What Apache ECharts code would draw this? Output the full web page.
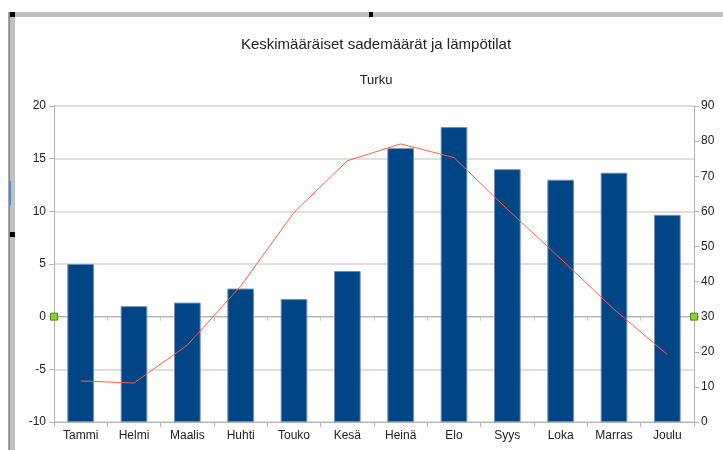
<!DOCTYPE html>
<html>
<head>
<meta charset="utf-8">
<script src="https://cdn.jsdelivr.net/npm/echarts@6/dist/echarts.min.js"></script>
<style>html,body{margin:0;padding:0;background:#fff}#c{width:723px;height:450px}</style>
</head>
<body>
<div id="c"></div>
<script>
const months = ['Tammi','Helmi','Maalis','Huhti','Touko','Kesä','Heinä','Elo','Syys','Loka','Marras','Joulu'];
const precipitation = [45, 33, 34, 38, 35, 43, 78, 84, 72, 69, 71, 59];
const temperature = [-6.1, -6.3, -2.7, 2.9, 9.9, 14.8, 16.4, 15.1, 10.2, 5.5, 0.7, -3.6];
const titleText = 'Keskimääräiset sademäärät ja lämpötilat';
const subtitleText = 'Turku';

const FONT = '"Liberation Sans", Arial, sans-serif';
const chart = echarts.init(document.getElementById('c'), null, {renderer: 'canvas'});
const labelStyle = {color: '#222', fontSize: 12, fontFamily: FONT};
chart.setOption({
  animation: false,
  backgroundColor: '#fff',
  title: [
    {text: titleText, left: 371, top: 32, textAlign: 'center',
     textStyle: {fontFamily: FONT, fontSize: 15, fontWeight: 'normal', color: '#222'}},
    {text: subtitleText, left: 371, top: 69, textAlign: 'center',
     textStyle: {fontFamily: FONT, fontSize: 13, fontWeight: 'normal', color: '#222'}}
  ],
  grid: {left: 54, right: 29, top: 106, bottom: 28},
  xAxis: [
    {type: 'category', data: months, position: 'bottom',
     axisLine: {onZero: false, lineStyle: {color: '#b3b3b3'}},
     axisTick: {show: true, length: 5, lineStyle: {color: '#b3b3b3'}},
     axisLabel: Object.assign({margin: 8}, labelStyle),
     splitLine: {show: false}},
    {type: 'category', data: months, position: 'bottom',
     axisLine: {show: true, onZero: true, onZeroAxisIndex: 0, lineStyle: {color: '#b3b3b3'}},
     axisTick: {show: true, length: 4, lineStyle: {color: '#c8c8c8'}},
     axisLabel: {show: false}, splitLine: {show: false}}
  ],
  yAxis: [
    {type: 'value', min: -10, max: 20, interval: 5, position: 'left',
     axisLine: {show: true, lineStyle: {color: '#b3b3b3'}},
     axisTick: {show: true, length: 5, lineStyle: {color: '#b3b3b3'}},
     axisLabel: Object.assign({margin: 8}, labelStyle),
     splitLine: {show: true, lineStyle: {color: '#d4d4d4', width: 1.5}}},
    {type: 'value', min: 0, max: 90, interval: 10, position: 'right',
     axisLine: {show: true, lineStyle: {color: '#b3b3b3'}},
     axisTick: {show: true, length: 5, lineStyle: {color: '#b3b3b3'}},
     axisLabel: Object.assign({margin: 7}, labelStyle),
     splitLine: {show: false}}
  ],
  series: [
    {type: 'bar', xAxisIndex: 0, yAxisIndex: 1, data: precipitation,
     barWidth: '50%',
     itemStyle: {color: '#004586', borderColor: '#6f8fb8', borderWidth: 1}},
    {type: 'line', xAxisIndex: 0, yAxisIndex: 0, data: temperature,
     showSymbol: false, symbol: 'none',
     lineStyle: {color: '#ff6040', width: 1}, z: 5}
  ]
});

// axis crossing handles and the selection frame
const y0 = chart.convertToPixel({yAxisIndex: 0}, 0);
const y30 = chart.convertToPixel({yAxisIndex: 1}, 30);
const gx0 = 54, gx1 = 723 - 29;
chart.setOption({
  graphic: [
    {type: 'rect', shape: {x: 15, y: 12, width: 708, height: 5}, style: {fill: '#c0c0c0'}, silent: true},
    {type: 'rect', shape: {x: 10, y: 12, width: 5, height: 438}, style: {fill: '#c0c0c0'}, silent: true},
    {type: 'rect', shape: {x: 8.5, y: 12, width: 1.2, height: 438}, style: {fill: '#555'}, silent: true},
    {type: 'rect', shape: {x: 10, y: 12, width: 5, height: 5}, style: {fill: '#000'}, silent: true},
    {type: 'rect', shape: {x: 369, y: 12, width: 4, height: 5}, style: {fill: '#000'}, silent: true},
    {type: 'rect', shape: {x: 10, y: 232, width: 5, height: 5}, style: {fill: '#000'}, silent: true},
    {type: 'rect', shape: {x: 9, y: 181, width: 2, height: 24}, style: {fill: '#3a8ee6'}, silent: true},
    {type: 'rect', shape: {x: gx0 - 3.5, y: y0 - 3.5, width: 7, height: 7},
     style: {fill: '#8ad12f', stroke: '#4f8a1c', lineWidth: 1}, silent: true, z: 100},
    {type: 'rect', shape: {x: gx1 - 3.5, y: y30 - 3.5, width: 7, height: 7},
     style: {fill: '#8ad12f', stroke: '#4f8a1c', lineWidth: 1}, silent: true, z: 100}
  ]
});
</script>
</body>
</html>
